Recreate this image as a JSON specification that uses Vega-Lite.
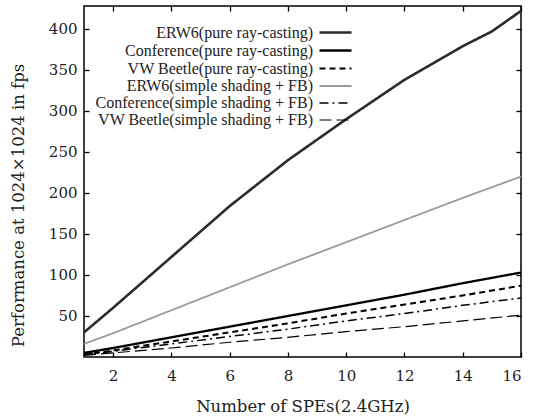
{
  "$schema": "https://vega.github.io/schema/vega-lite/v6.json",
  "autosize": "none",
  "width": 437,
  "height": 351,
  "padding": {"left": 84, "top": 6, "right": 15, "bottom": 59},
  "background": "white",
  "config": {
    "view": {"stroke": "black", "strokeWidth": 1.5},
    "font": "DejaVu Serif",
    "axis": {
      "grid": false,
      "domain": false,
      "tickColor": "black",
      "tickWidth": 1.3,
      "tickSize": -5,
      "labelFont": "DejaVu Serif",
      "labelFontSize": 15,
      "labelColor": "#222",
      "titleFont": "DejaVu Serif",
      "titleFontSize": 16.5,
      "titleFontWeight": "normal",
      "titleColor": "#222"
    },
    "legend": {
      "labelFont": "Liberation Serif",
      "labelFontSize": 16,
      "labelColor": "#222",
      "labelLimit": 400
    }
  },
  "data": {
    "values": [
      {"x": 1, "y": 30, "series": "ERW6(pure ray-casting)"},
      {"x": 2, "y": 60, "series": "ERW6(pure ray-casting)"},
      {"x": 4, "y": 122, "series": "ERW6(pure ray-casting)"},
      {"x": 6, "y": 184, "series": "ERW6(pure ray-casting)"},
      {"x": 8, "y": 240, "series": "ERW6(pure ray-casting)"},
      {"x": 10, "y": 290, "series": "ERW6(pure ray-casting)"},
      {"x": 12, "y": 338, "series": "ERW6(pure ray-casting)"},
      {"x": 14, "y": 379, "series": "ERW6(pure ray-casting)"},
      {"x": 15, "y": 397, "series": "ERW6(pure ray-casting)"},
      {"x": 16, "y": 422, "series": "ERW6(pure ray-casting)"},
      {"x": 1, "y": 5, "series": "Conference(pure ray-casting)"},
      {"x": 2, "y": 11, "series": "Conference(pure ray-casting)"},
      {"x": 4, "y": 24, "series": "Conference(pure ray-casting)"},
      {"x": 6, "y": 37, "series": "Conference(pure ray-casting)"},
      {"x": 8, "y": 50, "series": "Conference(pure ray-casting)"},
      {"x": 10, "y": 63, "series": "Conference(pure ray-casting)"},
      {"x": 12, "y": 76, "series": "Conference(pure ray-casting)"},
      {"x": 14, "y": 90, "series": "Conference(pure ray-casting)"},
      {"x": 16, "y": 103, "series": "Conference(pure ray-casting)"},
      {"x": 1, "y": 3, "series": "VW Beetle(pure ray-casting)"},
      {"x": 2, "y": 8, "series": "VW Beetle(pure ray-casting)"},
      {"x": 4, "y": 19, "series": "VW Beetle(pure ray-casting)"},
      {"x": 6, "y": 30, "series": "VW Beetle(pure ray-casting)"},
      {"x": 8, "y": 41, "series": "VW Beetle(pure ray-casting)"},
      {"x": 10, "y": 53, "series": "VW Beetle(pure ray-casting)"},
      {"x": 12, "y": 64, "series": "VW Beetle(pure ray-casting)"},
      {"x": 14, "y": 75, "series": "VW Beetle(pure ray-casting)"},
      {"x": 16, "y": 87, "series": "VW Beetle(pure ray-casting)"},
      {"x": 1, "y": 16, "series": "ERW6(simple shading + FB)"},
      {"x": 2, "y": 29, "series": "ERW6(simple shading + FB)"},
      {"x": 4, "y": 57, "series": "ERW6(simple shading + FB)"},
      {"x": 6, "y": 85, "series": "ERW6(simple shading + FB)"},
      {"x": 8, "y": 113, "series": "ERW6(simple shading + FB)"},
      {"x": 10, "y": 140, "series": "ERW6(simple shading + FB)"},
      {"x": 12, "y": 167, "series": "ERW6(simple shading + FB)"},
      {"x": 14, "y": 194, "series": "ERW6(simple shading + FB)"},
      {"x": 16, "y": 220, "series": "ERW6(simple shading + FB)"},
      {"x": 1, "y": 3, "series": "Conference(simple shading + FB)"},
      {"x": 2, "y": 7, "series": "Conference(simple shading + FB)"},
      {"x": 4, "y": 16, "series": "Conference(simple shading + FB)"},
      {"x": 6, "y": 25, "series": "Conference(simple shading + FB)"},
      {"x": 8, "y": 34, "series": "Conference(simple shading + FB)"},
      {"x": 10, "y": 44, "series": "Conference(simple shading + FB)"},
      {"x": 12, "y": 53, "series": "Conference(simple shading + FB)"},
      {"x": 14, "y": 63, "series": "Conference(simple shading + FB)"},
      {"x": 16, "y": 72, "series": "Conference(simple shading + FB)"},
      {"x": 1, "y": 2, "series": "VW Beetle(simple shading + FB)"},
      {"x": 2, "y": 5, "series": "VW Beetle(simple shading + FB)"},
      {"x": 4, "y": 11, "series": "VW Beetle(simple shading + FB)"},
      {"x": 6, "y": 18, "series": "VW Beetle(simple shading + FB)"},
      {"x": 8, "y": 24, "series": "VW Beetle(simple shading + FB)"},
      {"x": 10, "y": 31, "series": "VW Beetle(simple shading + FB)"},
      {"x": 12, "y": 37, "series": "VW Beetle(simple shading + FB)"},
      {"x": 14, "y": 44, "series": "VW Beetle(simple shading + FB)"},
      {"x": 16, "y": 51, "series": "VW Beetle(simple shading + FB)"}
    ]
  },
  "layer": [
    {
      "mark": {"type": "line", "clip": true},
      "encoding": {
        "x": {
          "field": "x", "type": "quantitative",
          "scale": {"domain": [1, 16], "nice": false, "zero": false},
          "axis": {"values": [2, 4, 6, 8, 10, 12, 14, 16], "title": "Number of SPEs(2.4GHz)", "labelPadding": 16, "titlePadding": 15}
        },
        "y": {
          "field": "y", "type": "quantitative",
          "scale": {"domain": [0, 428], "nice": false},
          "axis": {"values": [50, 100, 150, 200, 250, 300, 350, 400], "title": "Performance at 1024×1024 in fps", "labelPadding": 12, "titlePadding": 22, "titleY": 199}
        },
        "color": {
          "field": "series", "type": "nominal",
          "scale": {
            "domain": ["ERW6(pure ray-casting)", "Conference(pure ray-casting)", "VW Beetle(pure ray-casting)", "ERW6(simple shading + FB)", "Conference(simple shading + FB)", "VW Beetle(simple shading + FB)"],
            "range": ["#2b2b2b", "#000000", "#000000", "#999999", "#000000", "#000000"]
          },
          "legend": {
            "title": null,
            "orient": "none",
            "legendX": 242,
            "legendY": 17,
            "symbolType": "M-2,0H2",
            "symbolSize": 256,
            "labelAlign": "right",
            "labelOffset": -32,
            "rowPadding": 0,
            "symbolOffset": 0
          }
        },
        "strokeWidth": {
          "field": "series", "type": "nominal",
          "scale": {
            "domain": ["ERW6(pure ray-casting)", "Conference(pure ray-casting)", "VW Beetle(pure ray-casting)", "ERW6(simple shading + FB)", "Conference(simple shading + FB)", "VW Beetle(simple shading + FB)"],
            "range": [2.6, 1.2, 1.2, 2.6, 1.2, 1.2]
          },
          "legend": {"title": null}
        },
        "strokeDash": {
          "field": "series", "type": "nominal",
          "scale": {
            "domain": ["ERW6(pure ray-casting)", "Conference(pure ray-casting)", "VW Beetle(pure ray-casting)", "ERW6(simple shading + FB)", "Conference(simple shading + FB)", "VW Beetle(simple shading + FB)"],
            "range": [[1, 0], [1, 0], [6, 4], [1, 0], [9, 4, 2, 4], [12, 5]]
          },
          "legend": {"title": null}
        }
      }
    },
    {
      "mark": {"type": "point", "opacity": 0},
      "encoding": {
        "x": {"field": "x", "type": "quantitative", "axis": {"orient": "top", "values": [2, 4, 6, 8, 10, 12, 14, 16], "labels": false, "title": null}},
        "y": {"field": "y", "type": "quantitative", "axis": {"orient": "right", "values": [50, 100, 150, 200, 250, 300, 350, 400], "labels": false, "title": null}}
      }
    }
  ],
  "resolve": {"axis": {"x": "independent", "y": "independent"}}
}
